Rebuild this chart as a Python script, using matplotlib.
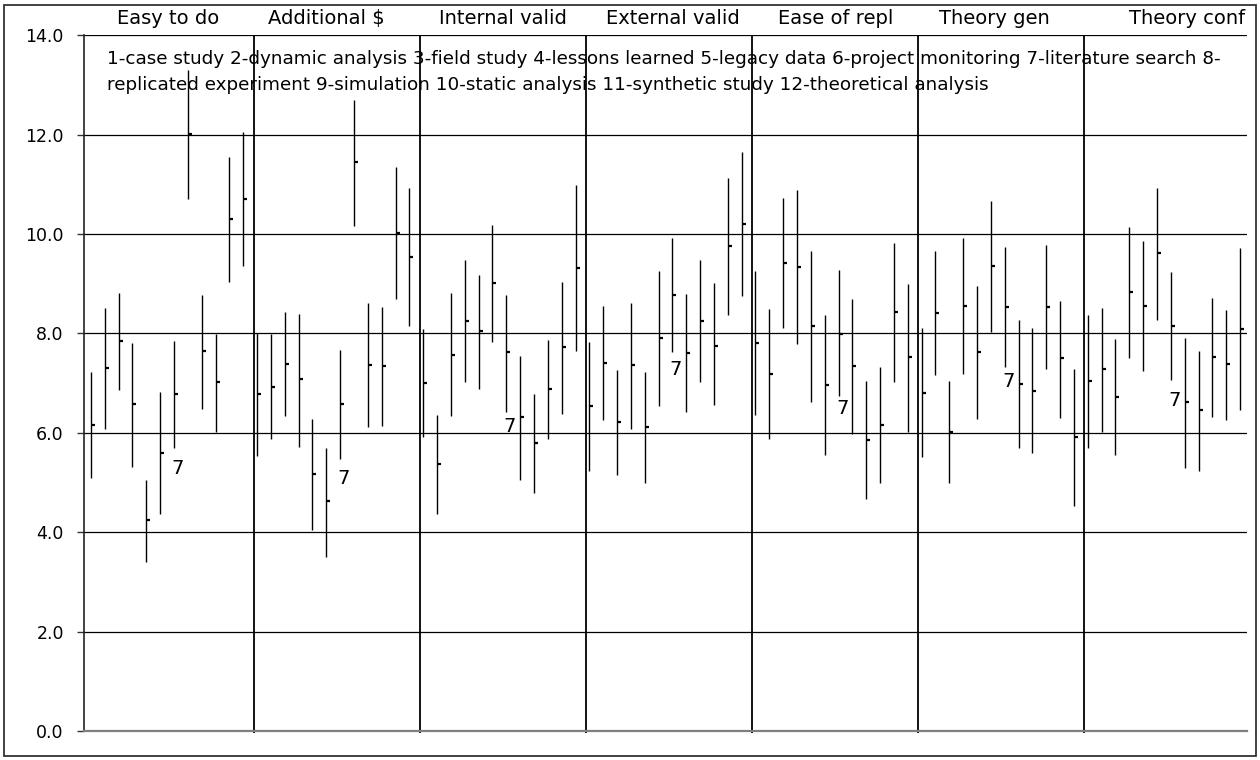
import numpy as np
import matplotlib
matplotlib.use("Agg")
import matplotlib.pyplot as plt
from matplotlib.patches import Rectangle
from matplotlib.lines import TICKRIGHT

plt.rcParams['font.family'] = ['DejaVu Sans']

# ---------------- data ----------------
criteria = ["Easy to do", "Additional $", "Internal valid", "External valid",
            "Ease of repl", "Theory gen", "Theory conf"]
methods = ["case study", "dynamic analysis", "field study", "lessons learned",
           "legacy data", "project monitoring", "literature search",
           "replicated experiment", "simulation", "static analysis",
           "synthetic study", "theoretical analysis"]
legend_line1 = ("1-case study 2-dynamic analysis 3-field study 4-lessons learned "
                "5-legacy data 6-project monitoring 7-literature search 8-")
legend_line2 = ("replicated experiment 9-simulation 10-static analysis "
                "11-synthetic study 12-theoretical analysis")
yticks = [0, 2, 4, 6, 8, 10, 12, 14]
label_method = 7  # the method tagged with a "7" in every group

high = [
    [7.22, 8.52, 8.82, 7.81, 5.06, 6.82, 7.85, 13.29, 8.78, 7.98, 11.55, 12.06],
    [8.00, 7.98, 8.43, 8.40, 6.28, 5.70, 7.66, 12.70, 8.61, 8.54, 11.35, 10.93],
    [8.08, 6.35, 8.82, 9.47, 9.18, 10.18, 8.78, 7.55, 6.78, 7.87, 9.04, 10.98],
    [7.82, 8.55, 7.27, 8.62, 7.22, 9.25, 9.92, 8.79, 9.48, 9.02, 11.12, 11.64],
    [9.25, 8.50, 10.72, 10.88, 9.65, 8.37, 9.27, 8.70, 7.05, 7.33, 9.81, 9.00],
    [8.10, 9.66, 7.05, 9.92, 8.95, 10.66, 9.74, 8.27, 8.10, 9.78, 8.66, 7.29],
    [8.37, 8.52, 7.88, 10.15, 9.85, 10.92, 9.23, 7.91, 7.64, 8.72, 8.48, 9.72],
]
mean = [
    [6.16, 7.31, 7.84, 6.57, 4.24, 5.60, 6.78, 12.02, 7.65, 7.02, 10.31, 10.71],
    [6.78, 6.93, 7.39, 7.08, 5.17, 4.62, 6.58, 11.44, 7.36, 7.35, 10.03, 9.54],
    [7.00, 5.38, 7.57, 8.25, 8.05, 9.02, 7.62, 6.31, 5.79, 6.89, 7.72, 9.32],
    [6.54, 7.41, 6.22, 7.36, 6.12, 7.90, 8.78, 7.60, 8.25, 7.74, 9.75, 10.20],
    [7.81, 7.19, 9.42, 9.33, 8.15, 6.97, 7.98, 7.35, 5.85, 6.16, 8.43, 7.52],
    [6.81, 8.42, 6.02, 8.56, 7.62, 9.35, 8.53, 6.98, 6.85, 8.53, 7.50, 5.92],
    [7.04, 7.28, 6.73, 8.83, 8.56, 9.61, 8.15, 6.62, 6.45, 7.52, 7.38, 8.08],
]
low = [
    [5.10, 6.08, 6.87, 5.31, 3.41, 4.37, 5.69, 10.70, 6.48, 6.02, 9.04, 9.35],
    [5.54, 5.87, 6.33, 5.72, 4.04, 3.50, 5.48, 10.16, 6.12, 6.14, 8.70, 8.14],
    [5.91, 4.37, 6.33, 7.02, 6.89, 7.82, 6.42, 5.05, 4.78, 5.88, 6.38, 7.64],
    [5.23, 6.25, 5.15, 6.08, 5.00, 6.54, 7.63, 6.41, 7.02, 6.55, 8.38, 8.75],
    [6.35, 5.87, 8.10, 7.78, 6.62, 5.56, 6.74, 5.98, 4.66, 4.98, 7.02, 6.02],
    [5.51, 7.16, 4.98, 7.18, 6.28, 8.02, 7.32, 5.69, 5.60, 7.28, 6.29, 4.52],
    [5.69, 6.02, 5.56, 7.50, 7.24, 8.27, 7.06, 5.29, 5.24, 6.32, 6.26, 6.45],
]

# ---------------- layout (pixels) ----------------
W, H = 1260, 760
AX_L, AX_R, AX_T, AX_B = 84, 1247, 35.2, 731
header_px = [168, 326, 503, 673, 836, 994, 1187]   # header text centres
HEADER_BASE = 24.5
LEG_X, LEG_BASE1, LEG_BASE2 = 107, 63.5, 89.5


def fy(py):
    return (AX_B - py) / (AX_B - AX_T)


def fx(px):
    return (px - AX_L) / (AX_R - AX_L)


fig = plt.figure(figsize=(W / 100, H / 100), dpi=100)
ax = fig.add_axes([AX_L / W, 1 - AX_B / H, (AX_R - AX_L) / W, (AX_B - AX_T) / H])

n_m = len(methods)
n_total = n_m * len(criteria)
ax.set_xlim(-0.5, n_total - 0.5)
ax.set_ylim(0, 14)

# outer frame
fig.patches.append(Rectangle((4 / W, 1 - 756 / H), (1256 - 4) / W, (756 - 5) / H,
                             transform=fig.transFigure, fill=False,
                             ec='#333333', lw=1.3))

# horizontal gridlines
for v in yticks[1:]:
    ax.axhline(v, color='black', lw=0.9, zorder=1)

# spines
for s in ['top', 'right']:
    ax.spines[s].set_visible(False)
ax.spines['left'].set_color('#222222')
ax.spines['left'].set_linewidth(1.2)
ax.spines['bottom'].set_color('#7f7f7f')
ax.spines['bottom'].set_linewidth(1.6)

ax.set_xticks([])
ax.set_yticks(yticks)
ax.set_yticklabels([f"{v:.1f}" for v in yticks])
ax.tick_params(axis='y', direction='out', length=5, width=1, color='#333333',
               pad=9.5, labelsize=12.5)

# group dividers
for g in range(1, len(criteria)):
    ax.vlines(g * n_m - 0.25, -0.05, 14, color='black', lw=1.3, clip_on=False, zorder=2)

# high-low bars with mean ticks
for g in range(len(criteria)):
    xs = np.arange(n_m) + g * n_m
    ax.vlines(xs, low[g], high[g], color='black', lw=1.0, zorder=3)
    ax.plot(xs, mean[g], ls='none', marker=TICKRIGHT, ms=2.6, mew=1.6,
            color='black', zorder=4)
    i7 = label_method - 1
    ax.text(xs[i7] + 0.26, mean[g][i7] - 1.5, str(label_method), ha='center',
            va='center', fontsize=14, zorder=5)

# header labels
for name, hx in zip(criteria, header_px):
    ax.text(fx(hx), fy(HEADER_BASE), name, transform=ax.transAxes, ha='center',
            va='baseline', fontsize=14, clip_on=False)

# legend text
ax.text(fx(LEG_X), fy(LEG_BASE1), legend_line1, transform=ax.transAxes,
        ha='left', va='baseline', fontsize=13.2)
ax.text(fx(LEG_X), fy(LEG_BASE2), legend_line2, transform=ax.transAxes,
        ha='left', va='baseline', fontsize=13.2)

fig.savefig("out.png", dpi=100)
